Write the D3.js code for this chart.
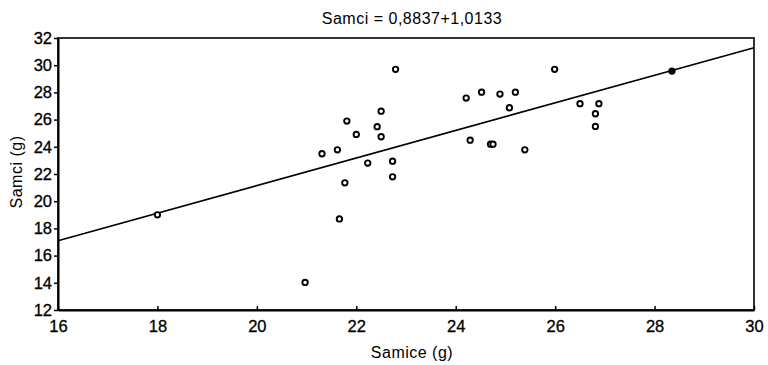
<!DOCTYPE html>
<html>
<head>
<meta charset="utf-8">
<script src="https://cdn.jsdelivr.net/npm/d3@7"></script>
<style>
  body { margin: 0; background: #fff; }
  text { font-family: "Liberation Sans", Arial, sans-serif; fill: #000; }
</style>
</head>
<body>
<svg id="chart" width="768" height="365"></svg>
<script>
// data
let samice = [18.0, 20.97, 21.31, 21.62, 21.66, 21.77, 21.81, 22.0, 22.23, 22.42,
              22.5, 22.5, 22.73, 22.73, 22.79, 24.21, 24.29, 24.52, 24.70, 24.75,
              24.89, 25.08, 25.20, 25.39, 25.99, 26.50, 26.81, 26.81, 26.88, 28.35];
let samci  = [19.0, 14.03, 23.49, 23.78, 18.70, 21.35, 25.89, 24.91, 22.80, 25.48,
              26.62, 24.74, 22.94, 21.79, 29.70, 27.58, 24.49, 28.02, 24.19, 24.19,
              27.88, 26.87, 28.02, 23.78, 29.70, 27.17, 26.43, 25.50, 27.17, 29.57];
let filled = [29]; // index of the solid dot
let xTicks = [16, 18, 20, 22, 24, 26, 28, 30];
let yTicks = [12, 14, 16, 18, 20, 22, 24, 26, 28, 30, 32];
let intercept = 0.8837, slope = 1.0133;

let svg = d3.select("#chart");
let pL = 58, pR = 754, pT = 38, pB = 310;

let x = d3.scaleLinear().domain([16, 30]).range([pL, pR]);
let y = d3.scaleLinear().domain([12, 32]).range([pB, pT]);

// frame
svg.append("rect")
   .attr("x", pL).attr("y", pT)
   .attr("width", pR - pL).attr("height", pB - pT)
   .attr("fill", "none").attr("stroke", "#000").attr("stroke-width", 1.6);

// x axis: ticks point up into plot
let xAxis = svg.append("g")
   .attr("transform", "translate(0," + pB + ")")
   .call(d3.axisBottom(x).tickValues(xTicks).tickSizeInner(-4).tickSizeOuter(0).tickPadding(10));
xAxis.select(".domain").attr("stroke-width", 2);
xAxis.selectAll(".tick line").attr("stroke-width", 1.5);
xAxis.selectAll("text").style("font-size", "16.5px").attr("fill", "#000")
     .attr("stroke", "#000").attr("stroke-width", 0.3);

// y axis: ticks point outward
let yAxis = svg.append("g")
   .attr("transform", "translate(" + pL + ",0)")
   .call(d3.axisLeft(y).tickValues(yTicks).tickSizeInner(4).tickSizeOuter(0).tickPadding(2));
yAxis.select(".domain").attr("stroke-width", 2);
yAxis.selectAll(".tick line").attr("stroke-width", 1.5);
yAxis.selectAll("text").style("font-size", "16.5px").attr("fill", "#000")
     .attr("stroke", "#000").attr("stroke-width", 0.3);

// regression line
let xs = x.domain();
svg.append("line")
   .attr("x1", x(xs[0])).attr("y1", y(intercept + slope * xs[0]))
   .attr("x2", x(xs[1])).attr("y2", y(intercept + slope * xs[1]))
   .attr("stroke", "#000").attr("stroke-width", 1.6);

// points
svg.append("g").selectAll("circle")
   .data(samice)
   .enter().append("circle")
   .attr("cx", function(d) { return x(d); })
   .attr("cy", function(d, i) { return y(samci[i]); })
   .attr("r", 2.7)
   .attr("fill", function(d, i) { return filled.indexOf(i) >= 0 ? "#000" : "#fff"; })
   .attr("stroke", "#000").attr("stroke-width", 1.9);

// title and labels
svg.append("text")
   .attr("x", 412).attr("y", 24)
   .attr("text-anchor", "middle")
   .style("font-size", "16px").style("letter-spacing", "0.5px")
   .text("Samci = 0,8837+1,0133");

svg.append("text")
   .attr("x", 412).attr("y", 358)
   .attr("text-anchor", "middle")
   .style("font-size", "16px").style("letter-spacing", "0.5px")
   .text("Samice (g)");

svg.append("text")
   .attr("transform", "translate(22,172) rotate(-90)")
   .attr("text-anchor", "middle")
   .style("font-size", "16px").style("letter-spacing", "0.5px")
   .text("Samci (g)");
</script>
</body>
</html>
